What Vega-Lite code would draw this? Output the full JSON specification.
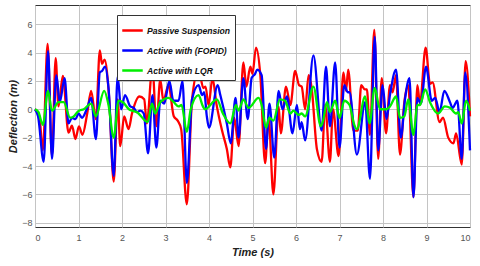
{
  "$schema": "https://vega.github.io/schema/vega-lite/v6.json",
  "autosize": {"type": "none"},
  "width": 435,
  "height": 222,
  "padding": {"left": 35, "top": 5, "right": 10, "bottom": 39},
  "config": {
    "font": "Liberation Sans",
    "view": {"stroke": "#333333", "strokeWidth": 1},
    "axis": {"gridColor": "#c4c4c4", "gridWidth": 1, "gridOpacity": 1, "domain": false, "ticks": false, "labelColor": "#555555", "labelFontSize": 9, "titleFontStyle": "italic", "titleFontWeight": "bold", "titleColor": "#222222", "titleFontSize": 11}
  },
  "datasets": {
    "passive": [
      {"t":0,"v":0},{"t":0.1,"v":-0.5},{"t":0.18,"v":-2.9},{"t":0.29,"v":4.6},{"t":0.39,"v":-3.3},{"t":0.475,"v":3.6},{"t":0.54,"v":0.2},{"t":0.64,"v":2.35},{"t":0.77,"v":-1.65},{"t":0.85,"v":-1.15},{"t":0.93,"v":-2.1},{"t":1.01,"v":-1.2},{"t":1.09,"v":-1.8},{"t":1.2,"v":-0.3},{"t":1.29,"v":1.3},{"t":1.4,"v":-0.7},{"t":1.49,"v":4.15},{"t":1.54,"v":3.2},{"t":1.6,"v":3.5},{"t":1.7,"v":1.0},{"t":1.81,"v":-5.1},{"t":1.9,"v":0.7},{"t":1.96,"v":-2.6},{"t":2.05,"v":-0.5},{"t":2.15,"v":-1.4},{"t":2.23,"v":-0.3},{"t":2.4,"v":0.9},{"t":2.51,"v":0.7},{"t":2.57,"v":-1.0},{"t":2.7,"v":3.0},{"t":2.79,"v":-1.2},{"t":2.88,"v":2.1},{"t":2.95,"v":0.6},{"t":3.07,"v":1.7},{"t":3.19,"v":-0.5},{"t":3.28,"v":-0.8},{"t":3.36,"v":-1.4},{"t":3.49,"v":-6.7},{"t":3.61,"v":0.7},{"t":3.76,"v":2.8},{"t":3.87,"v":1.5},{"t":3.92,"v":1.6},{"t":3.99,"v":0.3},{"t":4.08,"v":2.2},{"t":4.17,"v":0.4},{"t":4.3,"v":-1.5},{"t":4.41,"v":-2.8},{"t":4.49,"v":-4.1},{"t":4.58,"v":-0.6},{"t":4.68,"v":-2.6},{"t":4.79,"v":3.3},{"t":4.86,"v":1.6},{"t":4.95,"v":3.0},{"t":5.0,"v":2.5},{"t":5.08,"v":4.35},{"t":5.18,"v":2.4},{"t":5.29,"v":-3.8},{"t":5.37,"v":-0.6},{"t":5.48,"v":-6.0},{"t":5.6,"v":0.2},{"t":5.65,"v":-1.7},{"t":5.77,"v":1.6},{"t":5.87,"v":0.3},{"t":5.98,"v":2.7},{"t":6.07,"v":1.7},{"t":6.13,"v":1.6},{"t":6.21,"v":0.0},{"t":6.29,"v":2.4},{"t":6.36,"v":1.5},{"t":6.48,"v":-2.8},{"t":6.59,"v":-3.7},{"t":6.67,"v":0.3},{"t":6.78,"v":-3.7},{"t":6.85,"v":0.0},{"t":6.98,"v":-3.3},{"t":7.09,"v":2.6},{"t":7.15,"v":1.3},{"t":7.2,"v":2.8},{"t":7.32,"v":-1.5},{"t":7.42,"v":-1.5},{"t":7.5,"v":1.7},{"t":7.58,"v":1.4},{"t":7.63,"v":1.4},{"t":7.7,"v":-1.8},{"t":7.8,"v":5.6},{"t":7.89,"v":-3.5},{"t":7.97,"v":2.2},{"t":8.07,"v":-1.7},{"t":8.16,"v":1.7},{"t":8.22,"v":1.2},{"t":8.3,"v":2.4},{"t":8.39,"v":-3.2},{"t":8.49,"v":0.5},{"t":8.58,"v":1.7},{"t":8.7,"v":-6.2},{"t":8.79,"v":1.7},{"t":8.85,"v":0.4},{"t":8.98,"v":4.35},{"t":9.08,"v":1.8},{"t":9.14,"v":1.9},{"t":9.3,"v":-0.9},{"t":9.38,"v":-0.6},{"t":9.5,"v":-2.0},{"t":9.62,"v":-2.4},{"t":9.68,"v":-1.7},{"t":9.81,"v":-3.9},{"t":9.9,"v":3.4},{"t":10,"v":-0.5}
    ],
    "fopid": [
      {"t":0,"v":0},{"t":0.07,"v":-0.5},{"t":0.2,"v":-3.7},{"t":0.3,"v":4.1},{"t":0.39,"v":-3.5},{"t":0.49,"v":2.4},{"t":0.57,"v":0.5},{"t":0.68,"v":2.2},{"t":0.77,"v":-1.0},{"t":0.85,"v":-0.6},{"t":0.93,"v":-0.7},{"t":1.0,"v":-0.3},{"t":1.08,"v":-0.6},{"t":1.19,"v":0.0},{"t":1.29,"v":0.8},{"t":1.4,"v":-2.1},{"t":1.49,"v":2.6},{"t":1.54,"v":2.7},{"t":1.61,"v":3.0},{"t":1.69,"v":1.5},{"t":1.81,"v":-4.7},{"t":1.9,"v":2.3},{"t":1.98,"v":0.0},{"t":2.07,"v":1.0},{"t":2.19,"v":0.2},{"t":2.27,"v":0.1},{"t":2.34,"v":-0.2},{"t":2.42,"v":-0.1},{"t":2.5,"v":-0.3},{"t":2.6,"v":-3.1},{"t":2.7,"v":1.0},{"t":2.79,"v":-2.7},{"t":2.88,"v":0.6},{"t":2.97,"v":0.4},{"t":3.09,"v":2.0},{"t":3.18,"v":0.6},{"t":3.3,"v":0.6},{"t":3.39,"v":2.0},{"t":3.49,"v":-5.2},{"t":3.61,"v":0.7},{"t":3.76,"v":1.7},{"t":3.84,"v":1.0},{"t":3.89,"v":1.2},{"t":3.95,"v":-0.5},{"t":4.0,"v":-1.3},{"t":4.2,"v":1.7},{"t":4.26,"v":1.0},{"t":4.41,"v":-1.0},{"t":4.5,"v":-2.4},{"t":4.61,"v":0.8},{"t":4.68,"v":-2.0},{"t":4.79,"v":2.2},{"t":4.89,"v":-0.7},{"t":4.98,"v":2.2},{"t":5.06,"v":2.5},{"t":5.11,"v":2.8},{"t":5.21,"v":2.4},{"t":5.31,"v":-2.8},{"t":5.39,"v":0.4},{"t":5.5,"v":-3.4},{"t":5.6,"v":1.3},{"t":5.69,"v":0.0},{"t":5.79,"v":0.9},{"t":5.92,"v":-1.7},{"t":6.02,"v":0.3},{"t":6.09,"v":-1.4},{"t":6.13,"v":-0.9},{"t":6.21,"v":-2.2},{"t":6.4,"v":3.8},{"t":6.59,"v":-1.5},{"t":6.69,"v":3.0},{"t":6.78,"v":-1.2},{"t":6.9,"v":3.3},{"t":7.0,"v":-2.7},{"t":7.11,"v":1.7},{"t":7.19,"v":1.2},{"t":7.23,"v":1.2},{"t":7.4,"v":-3.2},{"t":7.59,"v":0.5},{"t":7.7,"v":-4.9},{"t":7.81,"v":5.1},{"t":7.89,"v":-2.9},{"t":7.99,"v":1.7},{"t":8.08,"v":-0.7},{"t":8.16,"v":1.0},{"t":8.3,"v":2.8},{"t":8.41,"v":-2.0},{"t":8.51,"v":0.8},{"t":8.61,"v":2.2},{"t":8.7,"v":-6.2},{"t":8.79,"v":0.8},{"t":8.87,"v":0.4},{"t":8.99,"v":3.0},{"t":9.12,"v":0.6},{"t":9.2,"v":0.8},{"t":9.3,"v":-0.2},{"t":9.41,"v":1.3},{"t":9.54,"v":0.5},{"t":9.6,"v":0.1},{"t":9.71,"v":0.6},{"t":9.81,"v":-3.5},{"t":9.89,"v":2.6},{"t":10,"v":-2.9}
    ],
    "lqr": [
      {"t":0,"v":0},{"t":0.08,"v":-0.2},{"t":0.18,"v":-1.1},{"t":0.3,"v":1.3},{"t":0.39,"v":-0.1},{"t":0.54,"v":0.5},{"t":0.66,"v":0.5},{"t":0.81,"v":-0.6},{"t":0.89,"v":-0.5},{"t":1.01,"v":-0.1},{"t":1.12,"v":0.0},{"t":1.29,"v":0.4},{"t":1.4,"v":-0.5},{"t":1.59,"v":1.3},{"t":1.69,"v":0.3},{"t":1.81,"v":-2.0},{"t":1.92,"v":0.6},{"t":2.02,"v":0.5},{"t":2.16,"v":0.0},{"t":2.23,"v":-0.1},{"t":2.34,"v":-0.2},{"t":2.59,"v":-0.9},{"t":2.69,"v":0.4},{"t":2.76,"v":-0.3},{"t":2.88,"v":0.5},{"t":3.07,"v":0.8},{"t":3.19,"v":0.5},{"t":3.3,"v":0.2},{"t":3.37,"v":0.3},{"t":3.49,"v":-1.6},{"t":3.58,"v":0.0},{"t":3.76,"v":1.0},{"t":3.86,"v":0.2},{"t":3.91,"v":0.0},{"t":4.18,"v":0.7},{"t":4.32,"v":-0.3},{"t":4.49,"v":-1.0},{"t":4.62,"v":0.3},{"t":4.68,"v":-0.1},{"t":4.79,"v":0.7},{"t":4.91,"v":0.1},{"t":5.14,"v":0.8},{"t":5.21,"v":0.3},{"t":5.31,"v":-1.3},{"t":5.39,"v":-0.6},{"t":5.48,"v":-0.8},{"t":5.63,"v":0.7},{"t":5.75,"v":0.6},{"t":5.87,"v":-0.3},{"t":5.94,"v":-0.1},{"t":6.06,"v":-0.4},{"t":6.13,"v":-0.3},{"t":6.21,"v":-0.5},{"t":6.4,"v":1.6},{"t":6.57,"v":-1.2},{"t":6.63,"v":-0.7},{"t":6.71,"v":0.5},{"t":6.78,"v":-0.2},{"t":6.9,"v":0.6},{"t":7.0,"v":-0.6},{"t":7.11,"v":0.6},{"t":7.23,"v":0.3},{"t":7.34,"v":-1.1},{"t":7.4,"v":-1.4},{"t":7.59,"v":0.9},{"t":7.69,"v":-1.0},{"t":7.81,"v":1.5},{"t":7.93,"v":0.0},{"t":8.08,"v":0.0},{"t":8.16,"v":0.2},{"t":8.3,"v":0.9},{"t":8.39,"v":-0.6},{"t":8.49,"v":-0.5},{"t":8.58,"v":0.7},{"t":8.7,"v":-1.8},{"t":8.79,"v":0.3},{"t":8.85,"v":0.3},{"t":8.97,"v":1.4},{"t":9.08,"v":0.5},{"t":9.27,"v":-0.3},{"t":9.42,"v":0.2},{"t":9.54,"v":0.1},{"t":9.68,"v":-0.3},{"t":9.73,"v":-0.2},{"t":9.81,"v":-1.0},{"t":9.91,"v":0.6},{"t":10,"v":-0.1}
    ]
  },
  "encoding": {
    "x": {"field": "t", "type": "quantitative", "scale": {"domain": [0, 10], "nice": false}, "axis": {"values": [0,1,2,3,4,5,6,7,8,9,10], "title": "Time (s)", "labelPadding": 6, "titlePadding": 4}},
    "y": {"field": "v", "type": "quantitative", "scale": {"domain": [-8.3, 7.35], "nice": false}, "axis": {"values": [-8,-6,-4,-2,0,2,4,6], "title": "Deflection (m)", "labelPadding": 3, "titlePadding": 3}}
  },
  "layer": [
    {
      "data": {"name": "passive"},
      "mark": {"type": "line", "interpolate": "monotone", "strokeWidth": 2.3},
      "encoding": {"color": {"datum": "Passive Suspension", "type": "nominal",
        "scale": {"domain": ["Passive Suspension", "Active with (FOPID)", "Active with LQR"], "range": ["#ff0000", "#0000ff", "#00ee00"]},
        "legend": {"title": null, "orient": "none", "legendX": 82, "legendY": 10, "fillColor": "white", "strokeColor": "#333333", "padding": 4, "symbolType": "stroke", "symbolSize": 420, "symbolStrokeWidth": 2.5, "labelFontSize": 8.6, "labelFontStyle": "italic", "labelFontWeight": "bold", "labelColor": "#111111", "rowPadding": 3, "labelOffset": 3}}}
    },
    {
      "data": {"name": "fopid"},
      "mark": {"type": "line", "interpolate": "monotone", "strokeWidth": 2.3},
      "encoding": {"color": {"datum": "Active with (FOPID)", "type": "nominal"}}
    },
    {
      "data": {"name": "lqr"},
      "mark": {"type": "line", "interpolate": "monotone", "strokeWidth": 2.3},
      "encoding": {"color": {"datum": "Active with LQR", "type": "nominal"}}
    }
  ]
}
